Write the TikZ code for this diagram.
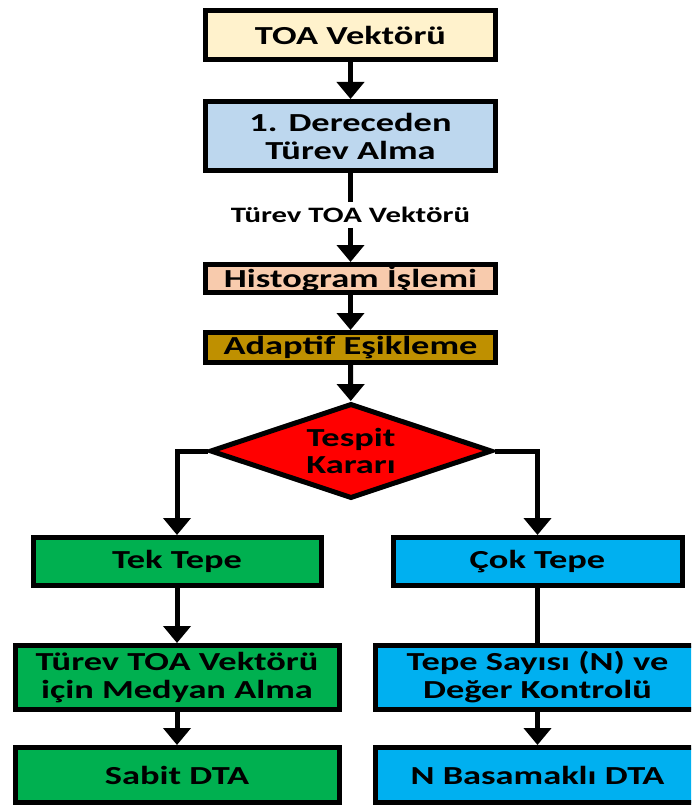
\documentclass[tikz,border=0pt]{standalone}
\usepackage{fontspec}
\setmainfont{Carlito}[FakeStretch=1.40]
\usetikzlibrary{arrows.meta, shapes.geometric}

\definecolor{inputfill}{HTML}{FFF2CC}
\definecolor{derivfill}{HTML}{BDD7EE}
\definecolor{histfill}{HTML}{F8CBAD}
\definecolor{threshfill}{HTML}{BF9000}
\definecolor{decfill}{HTML}{FF0000}
\definecolor{singlefill}{HTML}{00B050}
\definecolor{multifill}{HTML}{00B0F0}

\tikzset{
  stepbox/.style={rectangle, draw=black, line width=5pt, inner sep=0pt,
    align=center, text=black, font=\fontsize{26}{28}\selectfont\bfseries},
  decision/.style={diamond, draw=black, line width=5pt, fill=decfill,
    shape aspect=3, inner sep=0pt, minimum width=282pt, minimum height=95pt,
    align=center, text=black, font=\fontsize{26}{27}\selectfont\bfseries},
  midlabel/.style={inner sep=5pt, text=black,
    font=\fontsize{22}{24}\selectfont\bfseries},
  flow/.style={draw=black, line width=5pt, -{Triangle[width=27pt,length=17pt]}},
  link/.style={draw=black, line width=5pt},
}

\begin{document}
\begin{tikzpicture}[x=1pt,y=-1pt]
  \useasboundingbox (0,0) rectangle (691,805);
  \clip (0,0) rectangle (691,805);

  % main column
  \node[stepbox, fill=inputfill, minimum width=290pt, minimum height=49pt]
    (toa) at (350.5,35) {TOA Vektörü};
  \node[stepbox, fill=derivfill, minimum width=290pt, minimum height=69pt]
    (deriv) at (350.5,136) {1. Dereceden\\Türev Alma};
  \node[midlabel] (dtoa) at (350.5,215) {Türev TOA Vektörü};
  \node[stepbox, fill=histfill, minimum width=290pt, minimum height=28pt]
    (hist) at (350.5,278.5) {Histogram İşlemi};
  \node[stepbox, fill=threshfill, minimum width=290pt, minimum height=30pt]
    (thresh) at (350.5,347.5) {Adaptif Eşikleme};
  \node[decision] (dec) at (351,451) {Tespit\\Kararı};

  % single-peak branch
  \node[stepbox, fill=singlefill, minimum width=288pt, minimum height=48pt]
    (single) at (177,561.5) {Tek Tepe};
  \node[stepbox, fill=singlefill, minimum width=324pt, minimum height=64pt]
    (median) at (177,677.5) {Türev TOA Vektörü\\için Medyan Alma};
  \node[stepbox, fill=singlefill, minimum width=324pt, minimum height=55pt]
    (fixed) at (177,775) {Sabit DTA};

  % multi-peak branch
  \node[stepbox, fill=multifill, minimum width=289pt, minimum height=48pt]
    (multi) at (537.5,561.5) {Çok Tepe};
  \node[stepbox, fill=multifill, minimum width=324pt, minimum height=64pt]
    (count) at (537.5,677.5) {Tepe Sayısı (N) ve\\Değer Kontrolü};
  \node[stepbox, fill=multifill, minimum width=324pt, minimum height=55pt]
    (nstep) at (537.5,775) {N Basamaklı DTA};

  % connectors
  \draw[flow] (toa) -- (deriv);
  \draw[link] (deriv) -- (dtoa);
  \draw[flow] (dtoa) -- (hist);
  \draw[flow] (hist) -- (thresh);
  \draw[flow] (thresh) -- (dec);
  \draw[flow] (dec.west) -| (single.north);
  \draw[flow] (dec.east) -| (multi.north);
  \draw[flow] (single) -- (median);
  \draw[flow] (median) -- (fixed);
  \draw[link] (multi) -- (count);
  \draw[flow] (count) -- (nstep);
\end{tikzpicture}
\end{document}
